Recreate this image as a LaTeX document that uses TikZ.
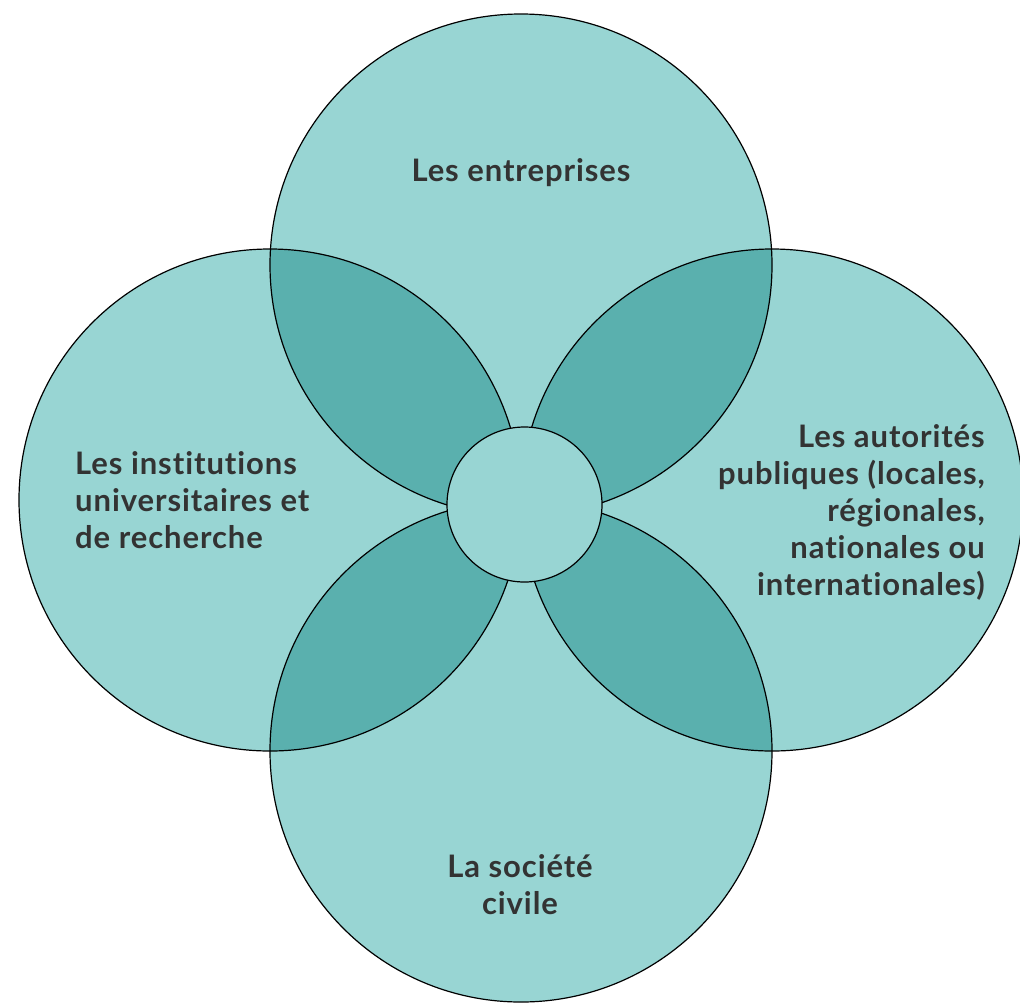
\documentclass[tikz,border=0pt]{standalone}
\usepackage{fontspec}
\setmainfont{Lato}[LetterSpace=3,Ligatures=NoCommon]
\usepackage{tikz}

\definecolor{tealLight}{HTML}{98D5D3}
\definecolor{tealDark}{HTML}{5AB0AE}
\definecolor{textGray}{HTML}{333333}

\tikzset{
  ring/.style={draw=black,line width=1.2pt},
  label/.style={text=textGray,font=\fontsize{31}{37}\selectfont\bfseries,inner sep=0pt}
}

\begin{document}
\begin{tikzpicture}[x=1pt,y=-1pt]
			\useasboundingbox (0,0) rectangle (1020,1002);
			% the four circles
			\fill[tealLight] (521,265) circle (251pt);
			\fill[tealLight] (270,500) circle (251pt);
			\fill[tealLight] (772,500) circle (251pt);
			\fill[tealLight] (521,751) circle (251pt);
			% overlaps
			\begin{scope}
				\clip (521,265) circle (251pt);
				\fill[tealDark] (270,500) circle (251pt);
				\fill[tealDark] (772,500) circle (251pt);
			\end{scope}
			\begin{scope}
				\clip (521,751) circle (251pt);
				\fill[tealDark] (270,500) circle (251pt);
				\fill[tealDark] (772,500) circle (251pt);
			\end{scope}
			\draw[ring] (521,265) circle (251pt);
			\draw[ring] (270,500) circle (251pt);
			\draw[ring] (772,500) circle (251pt);
			\draw[ring] (521,751) circle (251pt);
			% centre
			\draw[ring,fill=tealLight] (524.5,504.5) circle (77.5pt);
			\node[label,anchor=base] (entreprises) at (521,181) {Les entreprises};
			\node[label,anchor=base west,align=left] (institutions) at (75,548)
				{Les institutions\\universitaires et\\de recherche};
			\node[label,anchor=base east,align=right] (autorites) at (985,595)
				{Les autorités\\publiques (locales,\\régionales,\\nationales ou\\internationales)};
			\node[label,anchor=base,align=center] (societe) at (520,914)
				{La société\\civile};
		\end{tikzpicture}
\end{document}
